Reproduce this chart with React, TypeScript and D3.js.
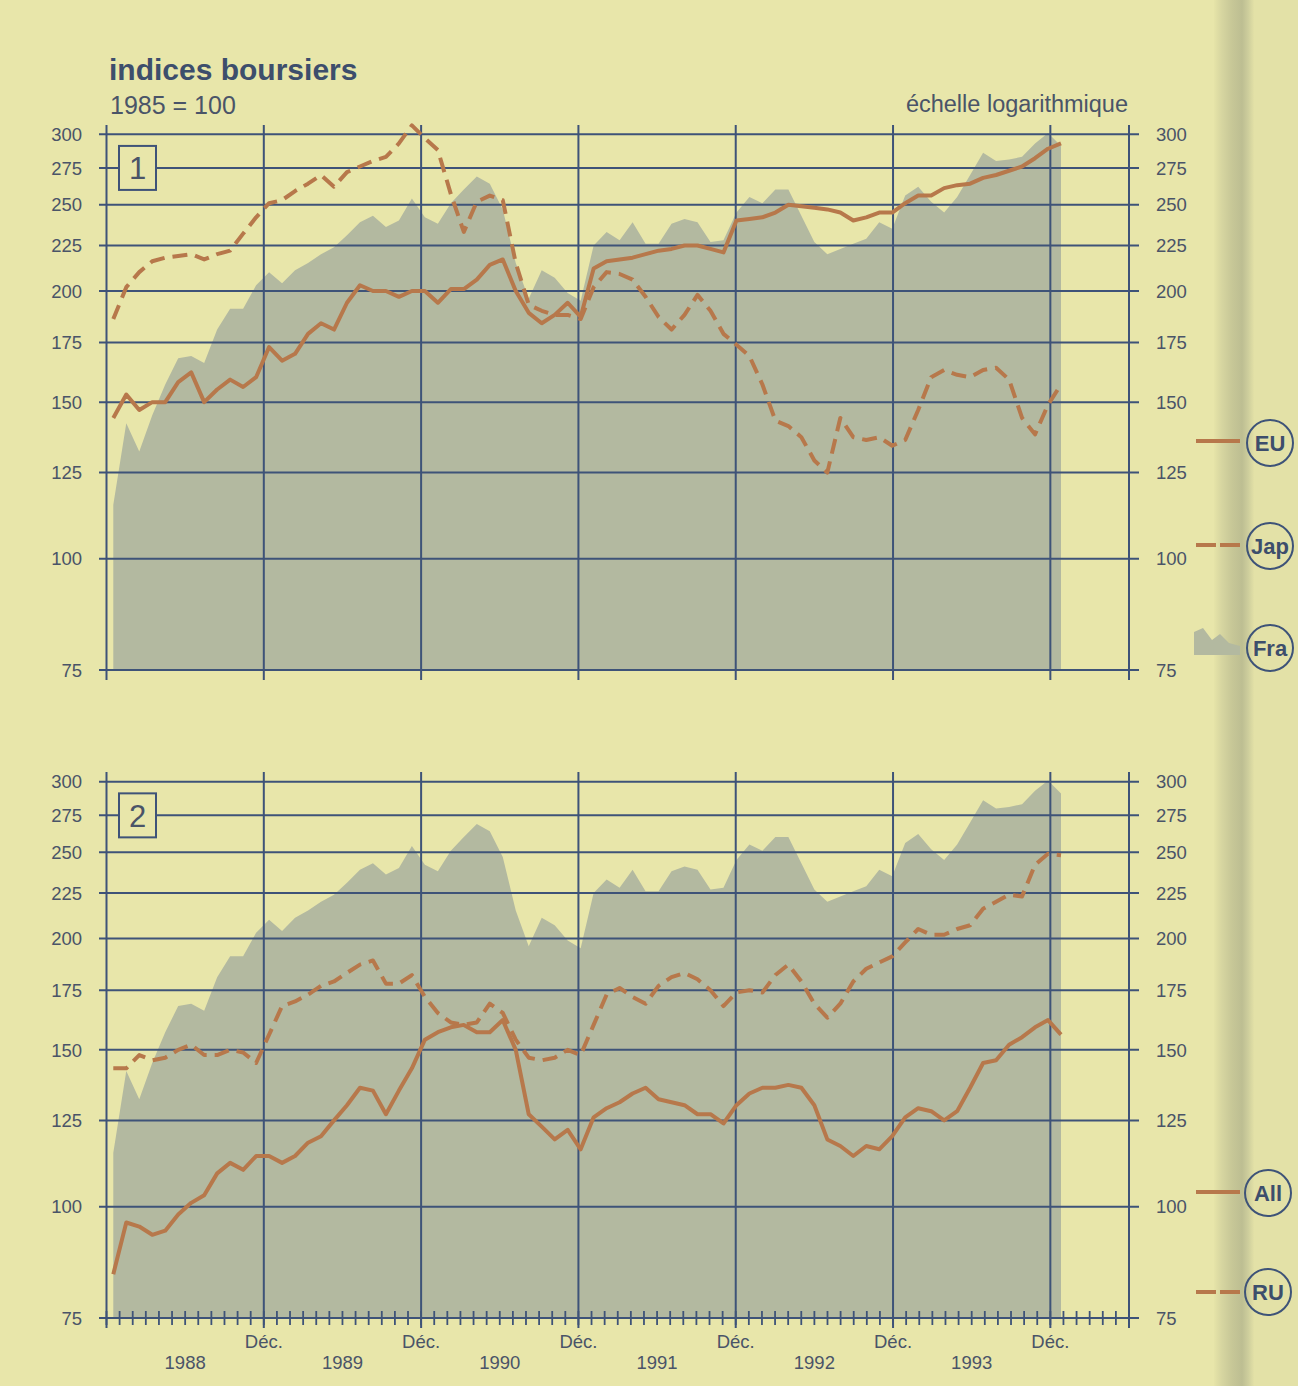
import React from "react";
import * as d3 from "d3";

const W = 1298;
const H = 1386;

// Monthly values, Jan 1988 .. Feb 1994 (1985 = 100)
const fraValues = [115,142,132,145,157,168,169,166,181,191,191,203,210,204,211,215,220,224,231,239,243,236,240,254,242,238,251,260,269,264,247,215,196,211,207,199,195,225,233,228,239,226,226,238,241,239,227,228,245,255,251,260,260,243,227,220,223,226,229,239,235,256,262,252,245,255,270,286,280,281,283,293,301,291];
const euValues = [144,153,147,150,150,158,162,150,155,159,156,160,173,167,170,179,184,181,194,203,200,200,197,200,200,194,201,201,206,214,217,200,189,184,188,194,187,212,216,217,218,220,222,223,225,225,223,221,240,241,242,245,250,249,248,247,245,240,242,245,245,251,256,256,261,263,264,268,270,273,276,282,289,293];
const japValues = [186,202,210,216,218,219,220,217,220,222,232,242,251,253,259,264,270,262,272,276,280,283,293,307,297,288,257,233,252,256,253,215,193,190,188,188,186,202,210,209,206,197,187,181,188,198,190,179,174,169,157,143,141,137,129,125,144,137,136,137,134,136,147,160,163,161,160,163,164,159,144,138,149,157];
const allValues = [84,96,95,93,94,98,101,103,109,112,110,114,114,112,114,118,120,125,130,136,135,127,135,143,154,157,159,160,157,157,162,150,127,123,119,122,116,126,129,131,134,136,132,131,130,127,127,124,130,134,136,136,137,136,130,119,117,114,117,116,120,126,129,128,125,128,136,145,146,152,155,159,162,156];
const ruValues = [143,143,148,146,147,150,152,148,148,150,149,145,156,168,170,173,177,179,183,187,189,178,178,182,172,165,161,160,161,169,165,154,147,146,147,150,148,160,173,176,172,169,177,181,183,180,175,168,174,175,174,182,187,179,169,163,169,179,185,188,191,198,205,202,202,205,207,216,220,224,223,242,249,248];

const yTicks = [75, 100, 125, 150, 175, 200, 225, 250, 275, 300];
const decMonths = [12, 24, 36, 48, 60, 72];
const yearLabels = ["1988", "1989", "1990", "1991", "1992", "1993"];

const BG = "#e8e6aa";
const AREA = "#b3b9a0";
const GRID = "#3e5378";
const LINE = "#b7784b";
const TEXT = "#4a5468";
const TITLE = "#3d4e6c";
const FONT = "'Liberation Sans', Arial, Helvetica, sans-serif";

export default function App() {
  const xAxis = d3.scaleLinear().domain([0, 78]).range([106.5, 1129]);
  const xData = d3.scaleLinear().domain([0, fraValues.length - 1]).range([113.3, 1061]);

  const panels = [
    {
      y: d3.scaleLog().domain([75, 300]).range([670, 134.3]),
      solid: euValues,
      dashed: japValues,
      label: "1",
      top: 125,
      bottom: 680,
      monthTicks: false,
    },
    {
      y: d3.scaleLog().domain([75, 300]).range([1318, 781.7]),
      solid: allValues,
      dashed: ruValues,
      label: "2",
      top: 772,
      bottom: 1328,
      monthTicks: true,
    },
  ];

  const legendLine = (y: number, dashed: boolean, key: string) =>
    dashed ? (
      <g key={key}>
        <line x1={1196} x2={1216} y1={y} y2={y} stroke={LINE} strokeWidth={4} />
        <line x1={1220} x2={1240} y1={y} y2={y} stroke={LINE} strokeWidth={4} />
      </g>
    ) : (
      <line key={key} x1={1196} x2={1240} y1={y} y2={y} stroke={LINE} strokeWidth={4} />
    );

  const legendCircle = (cx: number, cy: number, text: string) => (
    <g key={text}>
      <circle cx={cx} cy={cy} r={23} fill="none" stroke={GRID} strokeWidth={2} />
      <text
        x={cx}
        y={cy}
        dy="0.36em"
        textAnchor="middle"
        fontFamily={FONT}
        fontWeight="bold"
        fontSize={22}
        fill={TITLE}
      >
        {text}
      </text>
    </g>
  );

  return (
    <svg
      width={W}
      height={H}
      viewBox={`0 0 ${W} ${H}`}
      style={{ position: "absolute", left: 0, top: 0, display: "block" }}
    >
      <defs>
        <linearGradient id="binding" x1="0" x2="1" y1="0" y2="0">
          <stop offset="0" stopColor="#e6e4a8" />
          <stop offset="0.2" stopColor="#d6d5a0" />
          <stop offset="0.45" stopColor="#c7c797" />
          <stop offset="0.7" stopColor="#bdbe92" />
          <stop offset="0.85" stopColor="#cdcd9c" />
          <stop offset="1" stopColor="#e2e0a6" />
        </linearGradient>
      </defs>
      <rect x={0} y={0} width={W} height={H} fill={BG} />
      <rect x={1250} y={0} width={48} height={H} fill="#e3e1a7" />
      <rect x={1214} y={0} width={40} height={H} fill="url(#binding)" />

      {/* Titles */}
      <text x={109} y={80} fontFamily={FONT} fontWeight="bold" fontSize={30} fill={TITLE}>
        indices boursiers
      </text>
      <text x={110} y={114} fontFamily={FONT} fontSize={25} fill={TEXT}>
        1985 = 100
      </text>
      <text x={1128} y={112} textAnchor="end" fontFamily={FONT} fontSize={23.5} fill={TEXT}>
        échelle logarithmique
      </text>

      {panels.map((p) => {
        const area = d3
          .area<number>()
          .x((_, i) => xData(i))
          .y0(p.y(75))
          .y1((d) => p.y(d));
        const line = d3
          .line<number>()
          .x((_, i) => xData(i))
          .y((d) => p.y(d));
        const y275 = p.y(275);
        return (
          <g key={p.label}>
            <path d={area(fraValues) || ""} fill={AREA} />
            {yTicks.map((t) => (
              <line
                key={"h" + t}
                x1={99}
                x2={1139}
                y1={p.y(t)}
                y2={p.y(t)}
                stroke={GRID}
                strokeWidth={2}
              />
            ))}
            {[0, ...decMonths, 78].map((m) => (
              <line
                key={"v" + m}
                x1={xAxis(m)}
                x2={xAxis(m)}
                y1={p.top}
                y2={p.bottom}
                stroke={GRID}
                strokeWidth={2}
              />
            ))}
            {p.monthTicks &&
              d3.range(0, 79).map((m) => (
                <line
                  key={"t" + m}
                  x1={xAxis(m)}
                  x2={xAxis(m)}
                  y1={p.y(75) - 7}
                  y2={p.y(75) + 7}
                  stroke={GRID}
                  strokeWidth={1.8}
                />
              ))}
            {yTicks.map((t) => (
              <g key={"l" + t}>
                <text
                  x={82}
                  y={p.y(t)}
                  dy="0.36em"
                  textAnchor="end"
                  fontFamily={FONT}
                  fontSize={18.5}
                  fill={TEXT}
                >
                  {t}
                </text>
                <text
                  x={1156}
                  y={p.y(t)}
                  dy="0.36em"
                  textAnchor="start"
                  fontFamily={FONT}
                  fontSize={18.5}
                  fill={TEXT}
                >
                  {t}
                </text>
              </g>
            ))}
            <rect
              x={119}
              y={y275 - 22}
              width={37}
              height={44}
              fill={BG}
              stroke={GRID}
              strokeWidth={2}
            />
            <text
              x={137.5}
              y={y275}
              dy="0.36em"
              textAnchor="middle"
              fontFamily={FONT}
              fontSize={31}
              fill={TEXT}
            >
              {p.label}
            </text>
            <path
              d={line(p.dashed) || ""}
              fill="none"
              stroke={LINE}
              strokeWidth={4}
              strokeDasharray="15 8"
              strokeLinejoin="round"
            />
            <path
              d={line(p.solid) || ""}
              fill="none"
              stroke={LINE}
              strokeWidth={4}
              strokeLinejoin="round"
            />
          </g>
        );
      })}

      {decMonths.map((m, i) => (
        <g key={"d" + m}>
          <text
            x={xAxis(m)}
            y={1348}
            textAnchor="middle"
            fontFamily={FONT}
            fontSize={18.5}
            fill={TEXT}
          >
            Déc.
          </text>
          <text
            x={xAxis(m - 6)}
            y={1369}
            textAnchor="middle"
            fontFamily={FONT}
            fontSize={18.5}
            fill={TEXT}
          >
            {yearLabels[i]}
          </text>
        </g>
      ))}

      {legendLine(441, false, "eu")}
      {legendCircle(1270, 443, "EU")}
      {legendLine(545, true, "jap")}
      {legendCircle(1270, 546, "Jap")}
      <path
        d="M1194,655 L1194,632 L1203,628 L1212,640 L1220,634 L1229,643 L1240,646 L1240,655 Z"
        fill={AREA}
      />
      {legendCircle(1270, 648, "Fra")}
      {legendLine(1192, false, "all")}
      {legendCircle(1268, 1193, "All")}
      {legendLine(1292, true, "ru")}
      {legendCircle(1268, 1292, "RU")}
    </svg>
  );
}
